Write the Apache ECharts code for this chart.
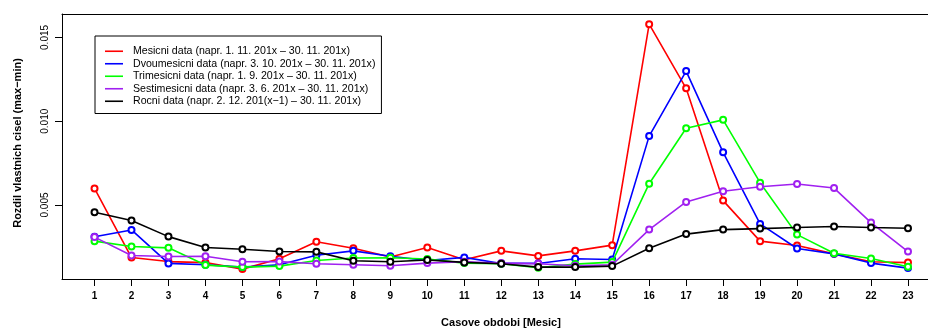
<!DOCTYPE html>
<html>
<head>
<meta charset="utf-8">
<script src="https://cdn.jsdelivr.net/npm/echarts@6/dist/echarts.min.js"></script>
<style>
  html, body { margin: 0; padding: 0; background: #fff; }
  #chart { width: 928px; height: 329px; }
</style>
</head>
<body>
<div id="chart"></div>
<script>
// Months of the observation window
const periods = [1, 2, 3, 4, 5, 6, 7, 8, 9, 10, 11, 12, 13, 14, 15, 16, 17, 18, 19, 20, 21, 22, 23];

// Eigenvalue spread (max − min) per data window length
const monthly = [0.00599, 0.00186, 0.00162, 0.00156, 0.00117, 0.00179, 0.00280, 0.00242, 0.00189, 0.00246, 0.00173, 0.00226, 0.00196, 0.00226, 0.00260, 0.01579, 0.01196, 0.00526, 0.00284, 0.00258, 0.00208, 0.00161, 0.00156];
const bimonthly = [0.00310, 0.00351, 0.00151, 0.00143, 0.00129, 0.00143, 0.00200, 0.00226, 0.00194, 0.00168, 0.00187, 0.00151, 0.00151, 0.00179, 0.00174, 0.00911, 0.01299, 0.00814, 0.00387, 0.00240, 0.00208, 0.00153, 0.00123];
const quarterly = [0.00284, 0.00252, 0.00244, 0.00141, 0.00129, 0.00135, 0.00168, 0.00183, 0.00185, 0.00177, 0.00153, 0.00149, 0.00125, 0.00147, 0.00159, 0.00627, 0.00958, 0.01008, 0.00633, 0.00323, 0.00212, 0.00180, 0.00131];
const halfYear = [0.00308, 0.00198, 0.00192, 0.00194, 0.00161, 0.00162, 0.00149, 0.00143, 0.00137, 0.00153, 0.00161, 0.00153, 0.00149, 0.00137, 0.00143, 0.00353, 0.00518, 0.00582, 0.00609, 0.00625, 0.00601, 0.00395, 0.00222];
const yearly = [0.00457, 0.00407, 0.00311, 0.00246, 0.00236, 0.00222, 0.00220, 0.00167, 0.00161, 0.00171, 0.00157, 0.00149, 0.00129, 0.00129, 0.00135, 0.00242, 0.00326, 0.00353, 0.00359, 0.00365, 0.00371, 0.00365, 0.00361];

const seriesNames = [
  'Mesicni data (napr. 1. 11. 201x – 30. 11. 201x)',
  'Dvoumesicni data (napr. 3. 10. 201x – 30. 11. 201x)',
  'Trimesicni data (napr. 1. 9. 201x – 30. 11. 201x)',
  'Sestimesicni data (napr. 3. 6. 201x – 30. 11. 201x)',
  'Rocni data (napr. 2. 12. 201(x−1) – 30. 11. 201x)'
];
const seriesColors = ['#ff0000', '#0000ff', '#00ff00', '#a020f0', '#000000'];
const seriesValues = [monthly, bimonthly, quarterly, halfYear, yearly];

const yTicks = [0.005, 0.010, 0.015];
const xTitle = 'Casove obdobi [Mesic]';
const yTitle = 'Rozdil vlastnich cisel (max−min)';

const FONT = '"Liberation Sans", Arial, Helvetica, sans-serif';

const chart = echarts.init(document.getElementById('chart'), null, { renderer: 'canvas' });

const series = seriesValues.map((vals, i) => ({
  name: seriesNames[i],
  type: 'line',
  data: periods.map((p, j) => [p, vals[j]]),
  symbol: 'emptyCircle',
  symbolSize: 6,
  showSymbol: true,
  lineStyle: { color: seriesColors[i], width: 1.6 },
  itemStyle: { color: seriesColors[i], borderColor: seriesColors[i], borderWidth: 1.2 },
  emphasis: { disabled: true },
  z: 2 + i
}));

chart.setOption({
  animation: false,
  backgroundColor: '#fff',
  grid: { left: 62, right: 0, top: 14, bottom: 50, containLabel: false },
  xAxis: [
    {
      type: 'value',
      position: 'bottom',
      min: 0.1206,
      max: 23.541,
      axisLine: { show: true, onZero: false, lineStyle: { color: '#000', width: 1 } },
      axisTick: { show: true, length: 7, lineStyle: { color: '#000' }, customValues: periods },
      axisLabel: {
        show: true, customValues: periods, margin: 12,
        fontSize: 10, fontWeight: 'bold', fontFamily: FONT, color: '#000'
      },
      splitLine: { show: false }
    },
    {
      type: 'value',
      position: 'top',
      min: 0.1206,
      max: 23.541,
      axisLine: { show: true, onZero: false, lineStyle: { color: '#000', width: 1 } },
      axisTick: { show: false },
      axisLabel: { show: false },
      splitLine: { show: false }
    }
  ],
  yAxis: {
    type: 'value',
    min: 0.00058,
    max: 0.0164,
    axisLine: { show: true, onZero: false, lineStyle: { color: '#000', width: 1 } },
    axisTick: { show: true, length: 7, lineStyle: { color: '#000' }, customValues: yTicks },
    axisLabel: {
      show: true, customValues: yTicks, rotate: 90, margin: 12,
      align: 'center', verticalAlign: 'bottom',
      formatter: v => v.toFixed(3),
      fontSize: 10, fontFamily: FONT, color: '#000'
    },
    splitLine: { show: false }
  },
  legend: {
    orient: 'vertical',
    left: 95,
    top: 36,
    data: seriesNames,
    icon: 'rect',
    itemWidth: 18,
    itemHeight: 1.6,
    itemGap: 0,
    padding: [9, 6, 6, 10],
    borderColor: '#000',
    borderWidth: 1,
    backgroundColor: '#fff',
    selectedMode: false,
    itemStyle: { borderWidth: 0 },
    textStyle: { fontSize: 10.6, fontFamily: FONT, color: '#000', lineHeight: 12.5, padding: [0, 0, 0, 5] }
  },
  graphic: [
    {
      type: 'text',
      x: 501, y: 323,
      style: {
        text: xTitle, fontSize: 11, fontWeight: 'bold', fontFamily: FONT,
        fill: '#000', align: 'center', verticalAlign: 'middle'
      }
    },
    {
      type: 'text',
      x: 18, y: 143,
      rotation: Math.PI / 2,
      style: {
        text: yTitle, fontSize: 11, fontWeight: 'bold', fontFamily: FONT,
        fill: '#000', align: 'center', verticalAlign: 'middle'
      }
    }
  ],
  series: series
});
</script>
</body>
</html>
